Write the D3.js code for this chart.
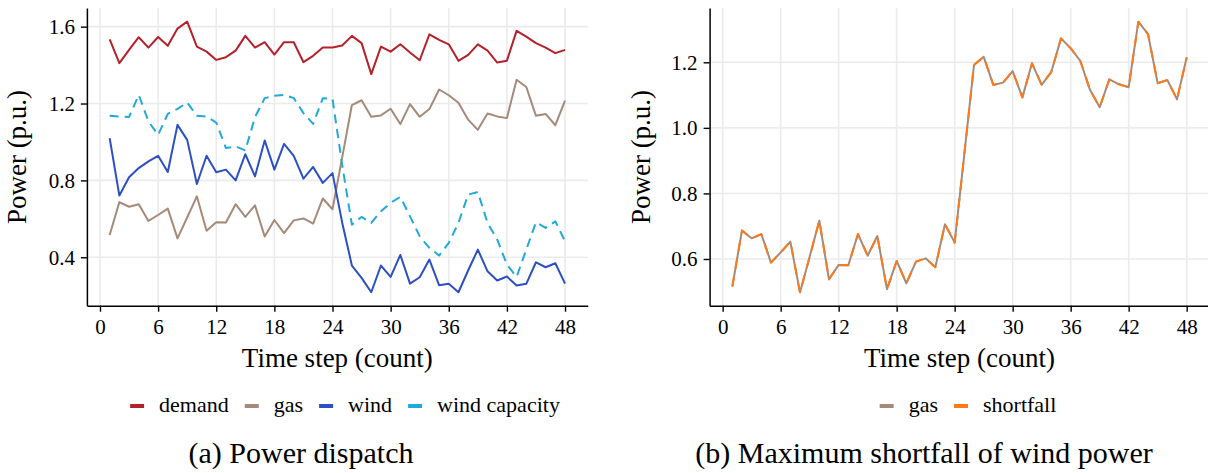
<!DOCTYPE html>
<html>
<head>
<meta charset="utf-8">
<script src="https://cdnjs.cloudflare.com/ajax/libs/d3/7.8.5/d3.min.js"></script>
<style>
  body { margin: 0; background: #fff; }
</style>
</head>
<body>
<div id="chart"></div>
<script>
var width = 1208,
    height = 473;

var FONT = "Liberation Serif";

var steps = [1, 2, 3, 4, 5, 6, 7, 8, 9, 10, 11, 12, 13, 14, 15, 16, 17, 18, 19, 20, 21, 22, 23, 24,
             25, 26, 27, 28, 29, 30, 31, 32, 33, 34, 35, 36, 37, 38, 39, 40, 41, 42, 43, 44, 45, 46, 47, 48];

var demand = [1.534, 1.41, 1.479, 1.545, 1.491, 1.546, 1.50, 1.59, 1.626, 1.496,
              1.47, 1.427, 1.441, 1.475, 1.552, 1.491, 1.519, 1.455, 1.519, 1.519,
              1.415, 1.448, 1.491, 1.491, 1.502, 1.552, 1.514, 1.353, 1.496, 1.47,
              1.508, 1.465, 1.425, 1.56, 1.531, 1.508, 1.422, 1.453, 1.508, 1.475,
              1.413, 1.423, 1.578, 1.548, 1.514, 1.491, 1.462, 1.479];

var gas = [0.516, 0.687, 0.663, 0.676, 0.589, 0.620, 0.653, 0.498, 0.607, 0.717,
           0.538, 0.582, 0.581, 0.676, 0.610, 0.670, 0.508, 0.594, 0.526, 0.592,
           0.602, 0.575, 0.706, 0.650, 0.92, 1.192, 1.217, 1.131, 1.138, 1.173,
           1.093, 1.197, 1.131, 1.171, 1.273, 1.243, 1.204, 1.116, 1.063, 1.148,
           1.133, 1.124, 1.324, 1.286, 1.136, 1.146, 1.087, 1.215];

var wind = [1.02, 0.721, 0.816, 0.864, 0.899, 0.928, 0.844, 1.089, 1.011, 0.781,
            0.928, 0.842, 0.856, 0.80, 0.936, 0.821, 1.008, 0.856, 0.99, 0.928,
            0.809, 0.870, 0.787, 0.838, 0.58, 0.357, 0.293, 0.218, 0.357, 0.298,
            0.412, 0.263, 0.296, 0.388, 0.255, 0.262, 0.218, 0.331, 0.44, 0.327,
            0.279, 0.30, 0.253, 0.262, 0.374, 0.348, 0.369, 0.263];

var windCapacity = [1.136, 1.132, 1.13, 1.245, 1.107, 1.037, 1.146, 1.172, 1.205, 1.136,
                    1.132, 1.101, 0.968, 0.977, 0.956, 1.129, 1.228, 1.24, 1.245, 1.228,
                    1.15, 1.094, 1.228, 1.223, 0.88, 0.570, 0.610, 0.579, 0.639, 0.683,
                    0.714, 0.613, 0.509, 0.449, 0.409, 0.475, 0.579, 0.726, 0.740, 0.579,
                    0.492, 0.362, 0.298, 0.44, 0.582, 0.553, 0.587, 0.483];

var shortfall = [0.516, 0.687, 0.663, 0.676, 0.589, 0.620, 0.653, 0.498, 0.607, 0.717,
                 0.538, 0.582, 0.581, 0.676, 0.610, 0.670, 0.508, 0.594, 0.526, 0.592,
                 0.602, 0.575, 0.706, 0.650, 0.92, 1.192, 1.217, 1.131, 1.138, 1.173,
                 1.093, 1.197, 1.131, 1.171, 1.273, 1.243, 1.204, 1.116, 1.063, 1.148,
                 1.133, 1.124, 1.324, 1.286, 1.136, 1.146, 1.087, 1.215];

var xTicks = [0, 6, 12, 18, 24, 30, 36, 42, 48];
var yTicksLeft = [0.4, 0.8, 1.2, 1.6];
var yTicksRight = [0.6, 0.8, 1.0, 1.2];

var colors = {
    demand: "#b5212a",
    gas: "#a58a7a",
    wind: "#2c4fc2",
    windCapacity: "#21a9d9",
    shortfall: "#fb7a1c"
};

var svg = d3.select("#chart").append("svg")
    .attr("width", width)
    .attr("height", height)
    .attr("font-family", FONT);

svg.append("rect").attr("width", width).attr("height", height).attr("fill", "#fff");

/** one panel: grid, axes, titles */
function panel(opts) {
    var x = d3.scaleLinear().domain([-1.35, 50.35]).range(opts.xRange);
    var y = d3.scaleLinear().domain(opts.yDomain).range([305.7, 8]);
    var g = svg.append("g");

    g.selectAll(".vgrid")
        .data(xTicks)
        .enter().append("line")
        .attr("x1", function(d) { return x(d); })
        .attr("x2", function(d) { return x(d); })
        .attr("y1", 8).attr("y2", 305.7)
        .attr("stroke", "#ebebeb").attr("stroke-width", 1.6);

    g.selectAll(".hgrid")
        .data(opts.yTicks)
        .enter().append("line")
        .attr("x1", opts.xRange[0]).attr("x2", opts.xRange[1])
        .attr("y1", function(d) { return y(d); })
        .attr("y2", function(d) { return y(d); })
        .attr("stroke", "#ebebeb").attr("stroke-width", 1.6);

    var xAxis = g.append("g")
        .attr("transform", "translate(0,305.7)")
        .call(d3.axisBottom(x).tickValues(xTicks).tickSize(6).tickSizeOuter(0).tickPadding(7));

    var yAxis = g.append("g")
        .attr("transform", "translate(" + opts.xRange[0] + ",0)")
        .call(d3.axisLeft(y).tickValues(opts.yTicks).tickSize(6).tickSizeOuter(0).tickPadding(6)
            .tickFormat(d3.format(".1f")));

    [xAxis, yAxis].forEach(function(a) {
        a.attr("font-family", FONT).attr("font-size", 21);
        a.select(".domain").attr("stroke", "#000").attr("stroke-width", 1.5);
        a.selectAll(".tick line").attr("stroke", "#000").attr("stroke-width", 1.4);
        a.selectAll(".tick text")
            .attr("fill", "#000")
            .style("font-family", FONT)
            .style("font-size", "21px");
    });

    g.append("text")
        .attr("x", (opts.xRange[0] + opts.xRange[1]) / 2)
        .attr("y", 367)
        .attr("text-anchor", "middle")
        .attr("font-size", 27)
        .text("Time step (count)");

    g.append("text")
        .attr("transform", "translate(" + opts.yTitleX + ",157) rotate(-90)")
        .attr("text-anchor", "middle")
        .attr("font-size", 27)
        .text("Power (p.u.)");

    return { x: x, y: y, g: g };
}

function drawLine(p, values, color, dash) {
    var line = d3.line()
        .x(function(d, i) { return p.x(steps[i]); })
        .y(function(d) { return p.y(d); });
    p.g.append("path")
        .datum(values)
        .attr("d", line)
        .attr("fill", "none")
        .attr("stroke", color)
        .attr("stroke-width", 2)
        .attr("stroke-linejoin", "round")
        .attr("stroke-dasharray", dash || null);
}

function legend(items, cx, cy) {
    var g = svg.append("g");
    var pos = 0;
    var parts = [];
    items.forEach(function(it) {
        var key = g.append("line")
            .attr("y1", cy).attr("y2", cy)
            .attr("stroke", it.color).attr("stroke-width", 4);
        var txt = g.append("text")
            .attr("y", cy + 6)
            .attr("font-size", 22)
            .text(it.label);
        parts.push({ key: key, txt: txt, start: pos });
        pos += 14 + 15 + txt.node().getComputedTextLength() + 16;
    });
    var total = pos - 16;
    var left = cx - total / 2;
    parts.forEach(function(p) {
        p.key.attr("x1", left + p.start).attr("x2", left + p.start + 14);
        p.txt.attr("x", left + p.start + 29);
    });
}

// (a) power dispatch
var pa = panel({ xRange: [86.9, 587.8], yDomain: [0.148, 1.697], yTicks: yTicksLeft, yTitleX: 26 });
drawLine(pa, demand, colors.demand);
drawLine(pa, gas, colors.gas);
drawLine(pa, wind, colors.wind);
drawLine(pa, windCapacity, colors.windCapacity, "9,6");

legend([
    { label: "demand", color: colors.demand },
    { label: "gas", color: colors.gas },
    { label: "wind", color: colors.wind },
    { label: "wind capacity", color: colors.windCapacity }
], 345, 406);

// (b) maximum shortfall
var pb = panel({ xRange: [709.6, 1209.4], yDomain: [0.4575, 1.3657], yTicks: yTicksRight, yTitleX: 650 });
drawLine(pb, gas, colors.gas);
drawLine(pb, shortfall, colors.shortfall, "10,8");

legend([
    { label: "gas", color: colors.gas },
    { label: "shortfall", color: colors.shortfall }
], 968, 406);

svg.append("text")
    .attr("x", 301).attr("y", 463)
    .attr("text-anchor", "middle")
    .attr("font-size", 30)
    .text("(a) Power dispatch");

svg.append("text")
    .attr("x", 924).attr("y", 463)
    .attr("text-anchor", "middle")
    .attr("font-size", 30)
    .text("(b) Maximum shortfall of wind power");
</script>
</body>
</html>
